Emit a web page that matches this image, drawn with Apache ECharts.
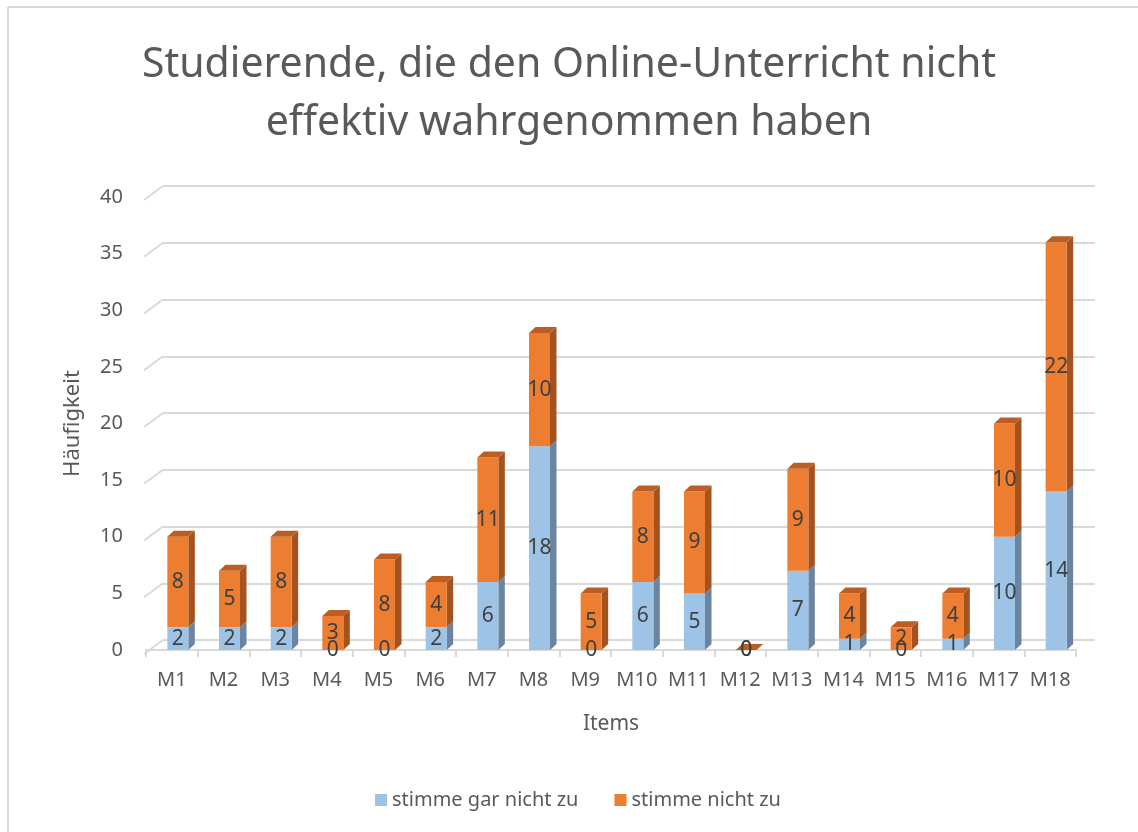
<!DOCTYPE html>
<html>
<head>
<meta charset="utf-8">
<script src="https://cdn.jsdelivr.net/npm/echarts@6/dist/echarts.min.js"></script>
<style>html,body{margin:0;padding:0;background:#fff}#c{width:1138px;height:832px}</style>
</head>
<body>
<div id="c"></div>
<script>
const categories = ['M1','M2','M3','M4','M5','M6','M7','M8','M9','M10','M11','M12','M13','M14','M15','M16','M17','M18'];
const stimmeGarNichtZu = [2,2,2,0,0,2,6,18,0,6,5,0,7,1,0,1,10,14];
const stimmeNichtZu    = [8,5,8,3,8,4,11,10,5,8,9,0,9,4,2,4,10,22];
const yTicks = [0,5,10,15,20,25,30,35,40];

const FONT = "'Noto Sans', 'Open Sans', sans-serif";
const TXT = '#595959';
const LBL = '#404040';
const GRID = '#D9D9D9';
const COLORS = [
  {front:'#9DC3E6', side:'#6B849F', top:'#7FA2C6'},
  {front:'#ED7D31', side:'#A5531E', top:'#BC5E23'}
];
const DX = 6.5, DY = -6, W = 21, SHIFT = 6;

function barRender(sIdx) {
  return function (params, api) {
    const i = api.value(0), v = api.value(1), bs = api.value(2), above = api.value(3);
    const c = COLORS[sIdx];
    const pBase = api.coord([i, bs]);
    const pTop = api.coord([i, bs + v]);
    const cx = pBase[0] + SHIFT;
    const x0 = cx - W / 2, x1 = cx + W / 2;
    const yb = pBase[1], yt = pTop[1];
    const children = [];
    if (v > 0) {
      children.push({type:'polygon', shape:{points:[[x1,yt],[x1+DX,yt+DY],[x1+DX,yb+DY],[x1,yb]]}, style:{fill:c.side}});
      children.push({type:'rect', shape:{x:x0, y:yt, width:W, height:yb-yt}, style:{fill:c.front}});
    }
    if (above === 0 && (v > 0 || sIdx === 1)) {
      children.push({type:'polygon', shape:{points:[[x0,yt],[x0+DX,yt+DY],[x1+DX,yt+DY],[x1,yt]]}, style:{fill:c.top}});
    }
    return {type:'group', children};
  };
}

function labelRender(params, api) {
  const i = api.value(0), b = api.value(1), o = api.value(2);
  const p0 = api.coord([i, 0]), p1 = api.coord([i, b]), p2 = api.coord([i, b + o]);
  const cx = p0[0] + SHIFT;
  const mk = (t, y) => ({type:'text', style:{text:String(t), x:cx, y:y, align:'center', verticalAlign:'middle', fill:LBL, font:'21px ' + FONT}});
  return {type:'group', children:[mk(b, (p0[1] + p1[1]) / 2), mk(o, (p1[1] + p2[1]) / 2)]};
}

const blueData = categories.map((_, i) => [i, stimmeGarNichtZu[i], 0, stimmeNichtZu[i]]);
const orangeData = categories.map((_, i) => [i, stimmeNichtZu[i], stimmeGarNichtZu[i], 0]);
const labelData = categories.map((_, i) => [i, stimmeGarNichtZu[i], stimmeNichtZu[i]]);
const connData = yTicks.map(v => [0, v]);

const chart = echarts.init(document.getElementById('c'));
chart.setOption({
  animation: false,
  textStyle: {fontFamily: FONT},
  title: {
    text: 'Studierende, die den Online-Unterricht nicht\neffektiv wahrgenommen haben',
    left: 'center', top: 31,
    textStyle: {fontSize: 41, fontWeight: 'normal', color: TXT, lineHeight: 58, fontFamily: FONT}
  },
  legend: {
    bottom: 17, left: 370,
    icon: 'rect', itemWidth: 12, itemHeight: 12, itemGap: 36,
    textStyle: {fontSize: 20, color: TXT, fontFamily: FONT},
    data: ['stimme gar nicht zu', 'stimme nicht zu']
  },
  graphic: [
    {type:'line', shape:{x1:8, y1:7, x2:1138, y2:7}, style:{stroke:GRID, lineWidth:2}, silent:true},
    {type:'line', shape:{x1:8, y1:7, x2:8, y2:832}, style:{stroke:GRID, lineWidth:2}, silent:true}
  ],
  grid: [
    {left: 146, right: 62, top: 197, bottom: 182},
    {left: 163, right: 43, top: 186, bottom: 192}
  ],
  xAxis: [
    {
      type: 'category', data: categories, gridIndex: 0, offset: 6,
      axisLine: {show: true, lineStyle: {color: GRID, width: 2}},
      axisTick: {show: true, length: 7, interval: 0, lineStyle: {color: GRID, width: 2}},
      axisLabel: {fontSize: 20, color: TXT, margin: 14, interval: 0, fontFamily: FONT},
      name: 'Items', nameLocation: 'middle', nameGap: 58,
      nameTextStyle: {fontSize: 21, color: TXT, fontFamily: FONT}
    },
    {type: 'value', gridIndex: 1, min: 0, max: 1, show: false}
  ],
  yAxis: [
    {
      type: 'value', gridIndex: 0, min: 0, max: 40, interval: 5,
      axisLine: {show: false}, axisTick: {show: false}, splitLine: {show: false},
      axisLabel: {fontSize: 20, color: TXT, margin: 23, fontFamily: FONT},
      name: 'Häufigkeit', nameLocation: 'middle', nameGap: 62, nameRotate: 90,
      nameTextStyle: {fontSize: 22, color: TXT, fontFamily: FONT}
    },
    {
      type: 'value', gridIndex: 1, min: 0, max: 40, interval: 5,
      axisLine: {show: false}, axisTick: {show: false}, axisLabel: {show: false},
      splitLine: {show: true, lineStyle: {color: GRID, width: 2}}
    }
  ],
  series: [
    {
      type: 'custom', name: 'connectors', xAxisIndex: 1, yAxisIndex: 1, silent: true, z: 1, clip: false,
      data: connData,
      renderItem: function (params, api) {
        const p = api.coord([api.value(0), api.value(1)]);
        return {type: 'line', shape: {x1: p[0], y1: p[1], x2: p[0] - 19, y2: p[1] + 14}, style: {stroke: GRID, lineWidth: 2}};
      }
    },
    {
      type: 'custom', name: 'stimme gar nicht zu', xAxisIndex: 0, yAxisIndex: 0, clip: false,
      itemStyle: {color: COLORS[0].front}, data: blueData, renderItem: barRender(0), z: 3
    },
    {
      type: 'custom', name: 'stimme nicht zu', xAxisIndex: 0, yAxisIndex: 0, clip: false,
      itemStyle: {color: COLORS[1].front}, data: orangeData, renderItem: barRender(1), z: 4
    },
    {
      type: 'custom', name: 'labels', xAxisIndex: 0, yAxisIndex: 0, clip: false, silent: true,
      data: labelData, renderItem: labelRender, z: 10
    }
  ]
});
</script>
</body>
</html>
